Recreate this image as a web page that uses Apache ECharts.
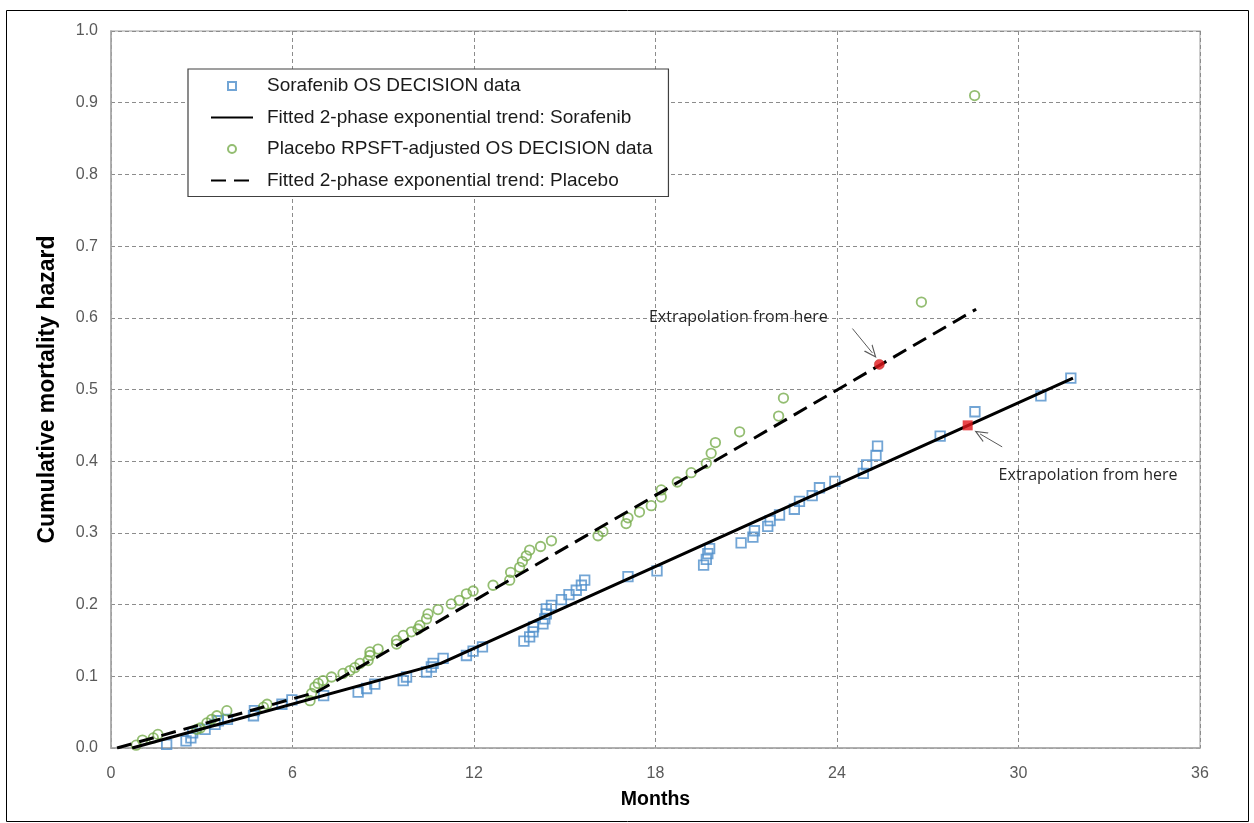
<!DOCTYPE html>
<html>
<head>
<meta charset="utf-8">
<script src="https://cdn.jsdelivr.net/npm/echarts@6/dist/echarts.min.js"></script>
<style>
  html, body { margin: 0; padding: 0; background: #ffffff; }
  #chart { width: 1254px; height: 823px; }
</style>
</head>
<body>
<div id="chart"></div>
<script>
// Sorafenib arm: observed cumulative mortality hazard by month
const sorafenibMonths = [1.84, 2.48, 2.64, 2.70, 3.11, 3.44, 3.55, 3.85, 4.71, 4.74, 5.65, 5.98,
  7.03, 8.17, 8.45, 8.72, 9.66, 9.77, 10.43, 10.59, 10.65, 10.98, 11.75, 11.97, 12.28,
  13.65, 13.84, 13.95, 13.97, 14.28, 14.34, 14.39, 14.39, 14.56, 14.89, 15.14, 15.38, 15.55, 15.66,
  17.09, 18.05, 19.59, 19.68, 19.73, 19.79, 20.83, 21.22, 21.27, 21.71, 21.79, 22.10, 22.59, 22.76,
  23.18, 23.42, 23.93, 24.87, 24.98, 25.29, 25.34, 27.41, 28.56, 30.74, 31.73];
const sorafenibHazard = [0.005, 0.010, 0.014, 0.021, 0.026, 0.033, 0.038, 0.040, 0.045, 0.052, 0.061, 0.067,
  0.073, 0.078, 0.083, 0.089, 0.094, 0.099, 0.106, 0.113, 0.118, 0.125, 0.129, 0.135, 0.141,
  0.149, 0.155, 0.162, 0.169, 0.173, 0.180, 0.187, 0.194, 0.199, 0.207, 0.214, 0.220, 0.227, 0.234,
  0.239, 0.247, 0.255, 0.263, 0.271, 0.278, 0.286, 0.294, 0.303, 0.309, 0.317, 0.325, 0.333, 0.344,
  0.352, 0.363, 0.372, 0.383, 0.395, 0.408, 0.421, 0.435, 0.469, 0.491, 0.516];

// Placebo arm (RPSFT-adjusted): observed cumulative mortality hazard by month
const placeboMonths = [0.83, 1.04, 1.40, 1.55, 2.84, 2.95, 3.17, 3.33, 3.50, 3.83, 5.04, 5.16,
  6.58, 6.63, 6.74, 6.85, 7.01, 7.29, 7.67, 7.90, 8.06, 8.23, 8.50, 8.56, 8.56, 8.83,
  9.44, 9.44, 9.66, 9.93, 10.15, 10.21, 10.43, 10.48, 10.81, 11.25, 11.51, 11.75, 11.97, 12.63,
  13.18, 13.21, 13.51, 13.60, 13.73, 13.84, 14.20, 14.56, 16.10, 16.26, 17.03, 17.09, 17.47, 17.86,
  18.19, 18.19, 18.72, 19.18, 19.68, 19.84, 19.98, 20.78, 22.07, 22.23, 26.79, 28.55];
const placeboHazard = [0.004, 0.011, 0.014, 0.019, 0.026, 0.028, 0.035, 0.040, 0.045, 0.052, 0.057, 0.061,
  0.066, 0.076, 0.085, 0.090, 0.094, 0.099, 0.104, 0.108, 0.112, 0.118, 0.122, 0.129, 0.134, 0.138,
  0.145, 0.150, 0.157, 0.162, 0.166, 0.171, 0.180, 0.187, 0.193, 0.201, 0.206, 0.215, 0.219, 0.227,
  0.234, 0.245, 0.252, 0.260, 0.268, 0.276, 0.281, 0.289, 0.296, 0.302, 0.313, 0.321, 0.329, 0.338,
  0.350, 0.360, 0.371, 0.384, 0.397, 0.411, 0.426, 0.441, 0.463, 0.488, 0.622, 0.910];

// Fitted 2-phase exponential trends (start, change point, end)
const sorafenibTrendMonths = [0.7, 10.9, 31.8];
const sorafenibTrendHazard = [0.0, 0.118, 0.516];
const placeboTrendMonths = [0.2, 6.8, 28.6];
const placeboTrendHazard = [0.0, 0.078, 0.612];

// Points where extrapolation of each trend begins
const placeboExtrapMonth = [25.4];
const placeboExtrapHazard = [0.535];
const sorafenibExtrapMonth = [28.32];
const sorafenibExtrapHazard = [0.450];

// Axis ticks
const xTicks = [0, 6, 12, 18, 24, 30, 36];
const yTicks = [0.0, 0.1, 0.2, 0.3, 0.4, 0.5, 0.6, 0.7, 0.8, 0.9, 1.0];

const seriesNames = [
  'Sorafenib OS DECISION data',
  'Fitted 2-phase exponential trend: Sorafenib',
  'Placebo RPSFT-adjusted OS DECISION data',
  'Fitted 2-phase exponential trend: Placebo'
];
const noteText = 'Extrapolation from here';

const pair = (xs, ys) => xs.map((x, i) => [x, ys[i]]);

const SANS = "'Liberation Sans', Arial, sans-serif";
const NOTE_FONT = "'Open Sans', 'Noto Sans', sans-serif";
const BLUE = '#4F8FCB';
const GREEN = '#78AC4E';
const RED = '#E3161C';
const chevron = 'path://M0,10 L5,0 L10,10 L8.9,10 L5,2.3 L1.1,10 Z';
const squareIcon = 'path://M0,0L10,0L10,10L0,10Z';

const chart = echarts.init(document.getElementById('chart'), null, { renderer: 'canvas' });

const option = {
  backgroundColor: '#ffffff',
  animation: false,
  grid: { left: 111, right: 54, top: 31, bottom: 75, show: true, borderColor: '#BFBFBF', borderWidth: 1.5 },
  legend: {
    data: [
      { name: seriesNames[0], icon: squareIcon },
      { name: seriesNames[1] },
      { name: seriesNames[2] },
      { name: seriesNames[3] }
    ],
    orient: 'vertical',
    left: 188,
    top: 69,
    padding: [6, 16, 5, 22],
    itemGap: 9.5,
    itemWidth: 42,
    itemHeight: 8,
    symbolKeepAspect: true,
    backgroundColor: '#ffffff',
    borderColor: '#404040',
    borderWidth: 1.2,
    textStyle: { fontFamily: SANS, fontSize: 19, lineHeight: 22, color: '#1a1a1a', padding: [0, 0, 0, 9] }
  },
  xAxis: {
    type: 'value',
    min: xTicks[0],
    max: xTicks[xTicks.length - 1],
    interval: 6,
    name: 'Months',
    nameLocation: 'middle',
    nameGap: 42,
    nameTextStyle: { fontFamily: SANS, fontWeight: 'bold', fontSize: 19.5, color: '#000' },
    axisLine: { show: true, lineStyle: { color: '#A6A6A6', width: 1.5 } },
    axisTick: { show: false },
    axisLabel: { fontFamily: SANS, fontSize: 16, color: '#595959', margin: 18 },
    splitLine: { show: true, lineStyle: { color: '#8C8C8C', type: [4, 3], width: 1 } }
  },
  yAxis: {
    type: 'value',
    min: yTicks[0],
    max: yTicks[yTicks.length - 1],
    interval: 0.1,
    name: 'Cumulative mortality hazard',
    nameLocation: 'middle',
    nameGap: 52,
    nameTextStyle: { fontFamily: SANS, fontWeight: 'bold', fontSize: 23, color: '#000' },
    axisLine: { show: true, lineStyle: { color: '#A6A6A6', width: 1.5 } },
    axisTick: { show: false },
    axisLabel: { fontFamily: SANS, fontSize: 16, color: '#595959', margin: 13, formatter: v => v.toFixed(1) },
    splitLine: { show: true, lineStyle: { color: '#8C8C8C', type: [4, 3], width: 1 } }
  },
  graphic: [{
    type: 'rect',
    silent: true,
    shape: { x: 6.5, y: 10.5, width: 1242, height: 811 },
    style: { fill: 'none', stroke: '#000000', lineWidth: 1 },
    z: 100
  }],
  series: [
    {
      name: seriesNames[0],
      type: 'scatter',
      symbol: 'rect',
      symbolSize: 9.5,
      itemStyle: { color: 'rgba(255,255,255,0)', borderColor: BLUE, borderWidth: 1.8 },
      data: pair(sorafenibMonths, sorafenibHazard),
      z: 2
    },
    {
      name: seriesNames[1],
      type: 'line',
      symbol: 'none',
      lineStyle: { color: '#000000', width: 3 },
      itemStyle: { color: 'rgba(0,0,0,0)', borderWidth: 0 },
      data: pair(sorafenibTrendMonths, sorafenibTrendHazard),
      z: 4
    },
    {
      name: seriesNames[2],
      type: 'scatter',
      symbol: 'circle',
      symbolSize: 9.5,
      itemStyle: { color: 'rgba(255,255,255,0)', borderColor: GREEN, borderWidth: 1.8 },
      data: pair(placeboMonths, placeboHazard),
      z: 2
    },
    {
      name: seriesNames[3],
      type: 'line',
      symbol: 'none',
      lineStyle: { color: '#000000', width: 3, type: [15, 8] },
      itemStyle: { color: 'rgba(0,0,0,0)', borderWidth: 0 },
      data: pair(placeboTrendMonths, placeboTrendHazard),
      z: 4
    },
    {
      name: 'Placebo extrapolation start',
      type: 'scatter',
      symbol: 'circle',
      symbolSize: 10,
      itemStyle: { color: RED, borderColor: '#B8322A', borderWidth: 0.6 },
      data: pair(placeboExtrapMonth, placeboExtrapHazard),
      z: 6,
      markPoint: {
        silent: true,
        symbol: 'circle',
        symbolSize: 1,
        itemStyle: { color: 'rgba(0,0,0,0)' },
        label: { show: true, position: 'inside', formatter: noteText, fontFamily: NOTE_FONT, fontSize: 16, color: '#262626' },
        data: [{ coord: [20.74, 0.600] }]
      },
      markLine: {
        silent: true,
        symbol: ['none', chevron],
        symbolSize: [11, 13],
        label: { show: false },
        lineStyle: { color: '#595959', width: 1, type: 'solid' },
        itemStyle: { color: '#595959' },
        data: [[{ coord: [24.51, 0.585] }, { coord: [25.17, 0.551] }]]
      }
    },
    {
      name: 'Sorafenib extrapolation start',
      type: 'scatter',
      symbol: 'rect',
      symbolSize: 10,
      itemStyle: { color: RED },
      data: pair(sorafenibExtrapMonth, sorafenibExtrapHazard),
      z: 6,
      markPoint: {
        silent: true,
        symbol: 'circle',
        symbolSize: 1,
        itemStyle: { color: 'rgba(0,0,0,0)' },
        label: { show: true, position: 'inside', formatter: noteText, fontFamily: NOTE_FONT, fontSize: 16, color: '#262626' },
        data: [{ coord: [32.30, 0.380] }]
      },
      markLine: {
        silent: true,
        symbol: ['none', chevron],
        symbolSize: [11, 13],
        label: { show: false },
        lineStyle: { color: '#595959', width: 1, type: 'solid' },
        itemStyle: { color: '#595959' },
        data: [[{ coord: [29.46, 0.420] }, { coord: [28.73, 0.438] }]]
      }
    }
  ]
};

chart.setOption(option);
</script>
</body>
</html>
